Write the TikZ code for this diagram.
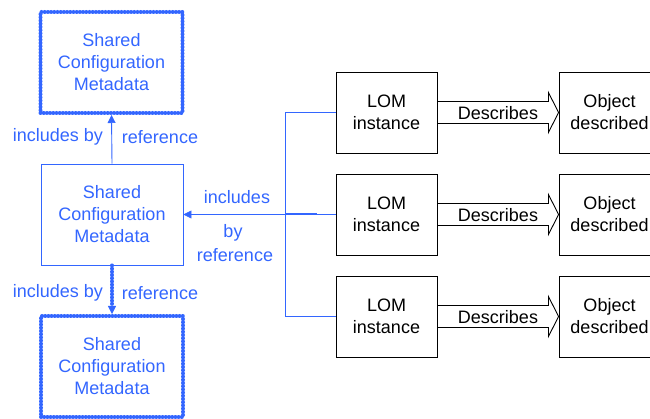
\documentclass[tikz,border=0pt]{standalone}
\usepackage{fontspec}
\setmainfont{Liberation Sans}
\usetikzlibrary{arrows.meta,calc}
\definecolor{linkblue}{RGB}{51,102,255}
\begin{document}
\begin{tikzpicture}[x=1pt,y=-1pt,
  every node/.style={font=\fontsize{18}{22}\selectfont, align=center, inner sep=0pt},
  metabox/.style={draw=linkblue, line width=0.9pt, text=linkblue,
    minimum width=142pt, minimum height=101pt},
  beaded/.style={draw=linkblue, line width=4pt, dash pattern=on 0pt off 3.2pt, line cap=round},
  sharedbox/.style={metabox, beaded},
  plainbox/.style={draw=black, line width=0.9pt, minimum width=101pt, minimum height=81pt},
  lbl/.style={text=linkblue},
  link/.style={draw=linkblue, line width=0.9pt},
  tip/.style={-{Triangle[length=8pt,width=8pt,line width=0.5pt]}}
]
\useasboundingbox (0,0) rectangle (650,419);
\clip (0,0) rectangle (650,419);

% shared configuration metadata
\node[sharedbox] (top) at (111.5,62.5) {Shared\\Configuration\\Metadata};
\node[metabox]   (mid) at (112,214.5) {Shared\\Configuration\\Metadata};
\node[sharedbox] (bot) at (112,366.5) {Shared\\Configuration\\Metadata};

\draw[link,tip] (mid.north) -- (top.south);
\node[lbl] (lt1) at (58,137) {includes by};
\node[lbl] (lt2) at (160,137) {reference};

\draw[beaded,tip] (mid.south) -- (bot.north);
\node[lbl] (lb1) at (58,293) {includes by};
\node[lbl] (lb2) at (160,293) {reference};

% LOM instances and the objects they describe
\foreach \i/\y in {1/112.5,2/214.5,3/316.5} {
  \node[plainbox] (lom\i) at (386.5,\y) {LOM\\instance};
  \node[plainbox] (obj\i) at (609.5,\y) {Object\\described};
  \draw[line width=0.9pt]
    ($(lom\i.east)+(0,-11)$) -- ++(111,0) -- ++(0,-9) -- (obj\i.west)
    -- ($(lom\i.east)+(111,20)$) -- ++(0,-9) -- ($(lom\i.east)+(0,11)$);
  \node (desc\i) at ($(lom\i.east)!0.5!(obj\i.west)+(0,1)$) {Describes};
}

% bus joining the LOM instances to the shared metadata
\coordinate (bus1) at (285,112.5);
\coordinate (bus2) at (285,214.5);
\coordinate (bus3) at (285,316.5);
\coordinate (feed) at (317,214.5);
\draw[link] (lom1.west) -- (bus1) -- (bus3) -- (lom3.west);
\draw[link] (lom2.west) -- (feed);
\draw[link,line width=2pt] (bus2) -- (feed);
\draw[link,tip] (bus2) -- (mid.east);
\node[lbl] (li1) at (237,197) {includes};
\node[lbl] (li2) at (233,233) {by};
\node[lbl] (li3) at (235,255) {reference};
\end{tikzpicture}
\end{document}
